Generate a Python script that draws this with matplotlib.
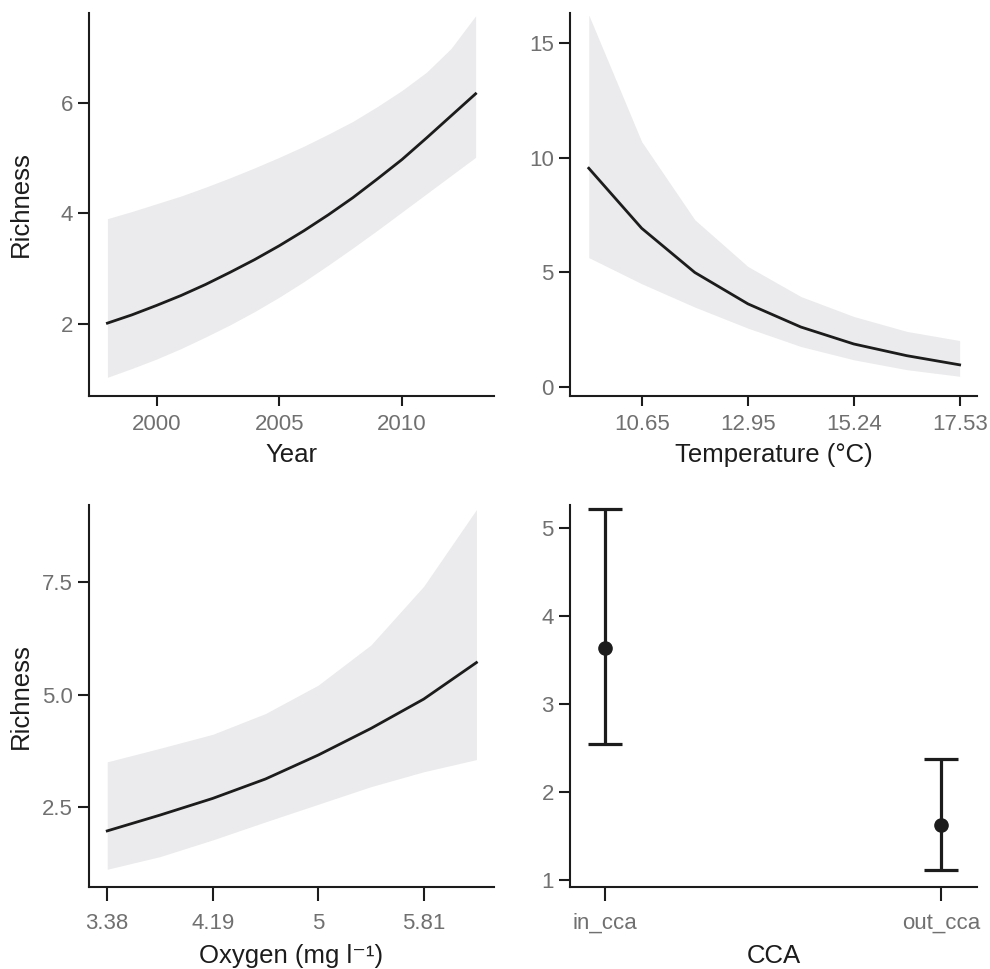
"""Model predictions of richness vs year, temperature, oxygen and CCA."""
import matplotlib
matplotlib.use("Agg")
import matplotlib.pyplot as plt

matplotlib.rcParams.update({
    "font.family": ["Liberation Sans", "DejaVu Sans"],
    "font.size": 16,
    "axes.linewidth": 1.5, "axes.edgecolor": "#1c1c1c",
    "xtick.major.width": 1.5, "ytick.major.width": 1.5,
    "xtick.major.size": 7.2, "ytick.major.size": 7.7,
    "xtick.color": "#1c1c1c", "ytick.color": "#1c1c1c",
    "xtick.labelcolor": "#707070", "ytick.labelcolor": "#707070",
    "xtick.labelsize": 16, "ytick.labelsize": 16,
    "xtick.major.pad": 6.3, "ytick.major.pad": 4,
    "axes.labelsize": 18.5, "axes.labelcolor": "#1c1c1c",
})

# --- Year
year = list(range(1998, 2014))
year_fit = [2.01, 2.16, 2.33, 2.51, 2.71, 2.93, 3.16, 3.41, 3.68, 3.97, 4.28, 4.62, 4.97, 5.36, 5.76, 6.16]
year_lo = [1.03, 1.19, 1.36, 1.55, 1.76, 1.98, 2.22, 2.48, 2.76, 3.06, 3.37, 3.69, 4.02, 4.35, 4.68, 5.01]
year_hi = [3.90, 4.03, 4.17, 4.31, 4.47, 4.64, 4.82, 5.01, 5.21, 5.43, 5.66, 5.93, 6.22, 6.55, 6.98, 7.57]

# --- Temperature
temp = [9.505, 10.65, 11.80, 12.95, 14.095, 15.24, 16.385, 17.53]
temp_fit = [9.55, 6.93, 5.00, 3.63, 2.62, 1.88, 1.37, 0.97]
temp_lo = [5.65, 4.51, 3.49, 2.57, 1.77, 1.19, 0.76, 0.47]
temp_hi = [16.24, 10.71, 7.30, 5.26, 3.95, 3.08, 2.43, 2.03]
temp_ticks = [10.65, 12.95, 15.24, 17.53]

# --- Oxygen
oxy = [3.38, 3.785, 4.19, 4.595, 5.0, 5.405, 5.81, 6.215]
oxy_fit = [1.98, 2.33, 2.70, 3.13, 3.66, 4.25, 4.90, 5.71]
oxy_lo = [1.13, 1.41, 1.78, 2.18, 2.57, 2.96, 3.29, 3.56]
oxy_hi = [3.51, 3.81, 4.12, 4.58, 5.21, 6.10, 7.40, 9.10]
oxy_ticks = [3.38, 4.19, 5.0, 5.81]
oxy_labels = ["3.38", "4.19", "5", "5.81"]

# --- CCA
cca = ["in_cca", "out_cca"]
cca_fit = [3.64, 1.62]
cca_lo = [2.54, 1.11]
cca_hi = [5.22, 2.37]

ribbon = "#ebebed"
ink = "#1c1c1c"

fig = plt.figure(figsize=(9.9, 9.69), dpi=100)
ax1 = fig.add_axes([0.0899, 0.5918, 0.4091, 0.3947])
ax2 = fig.add_axes([0.5758, 0.5918, 0.4108, 0.3947])
ax3 = fig.add_axes([0.0899, 0.0843, 0.4091, 0.3945])
ax4 = fig.add_axes([0.5758, 0.0843, 0.4108, 0.3945])

for ax in (ax1, ax2, ax3, ax4):
    ax.spines["top"].set_visible(False)
    ax.spines["right"].set_visible(False)
# bottom row has slightly longer x ticks
for ax in (ax3, ax4):
    ax.tick_params(axis="x", length=10.3, pad=8.3)

# Year panel
ax1.fill_between(year, year_lo, year_hi, color=ribbon, linewidth=0)
ax1.plot(year, year_fit, color=ink, linewidth=2)
ax1.set_xlim(1997.25, 2013.75)
ax1.set_ylim(0.70, 7.62)
ax1.set_xticks([2000, 2005, 2010])
ax1.set_yticks([2, 4, 6])
ax1.set_xlabel("Year")
ax1.set_ylabel("Richness")

# Temperature panel
ax2.fill_between(temp, temp_lo, temp_hi, color=ribbon, linewidth=0)
ax2.plot(temp, temp_fit, color=ink, linewidth=2)
ax2.set_xlim(9.10, 17.90)
ax2.set_ylim(-0.37, 16.32)
ax2.set_xticks(temp_ticks)
ax2.set_xticklabels([f"{t:.2f}" for t in temp_ticks])
ax2.set_yticks([0, 5, 10, 15])
ax2.set_xlabel("Temperature (°C)")

# Oxygen panel
ax3.fill_between(oxy, oxy_lo, oxy_hi, color=ribbon, linewidth=0)
ax3.plot(oxy, oxy_fit, color=ink, linewidth=2)
ax3.set_xlim(3.24, 6.35)
ax3.set_ylim(0.73, 9.2)
ax3.set_xticks(oxy_ticks)
ax3.set_xticklabels(oxy_labels)
ax3.set_yticks([2.5, 5.0, 7.5])
ax3.set_yticklabels(["2.5", "5.0", "7.5"])
ax3.set_xlabel("Oxygen (mg l⁻¹)")
ax3.set_ylabel("Richness")

# CCA panel
xpos = list(range(1, len(cca) + 1))
err = [[f - lo for f, lo in zip(cca_fit, cca_lo)],
       [hi - f for f, hi in zip(cca_fit, cca_hi)]]
ax4.errorbar(xpos, cca_fit, yerr=err, fmt="o", color=ink, ecolor=ink,
             markersize=9.5, elinewidth=2.3, capsize=12, capthick=2.3)
ax4.set_xlim(0.895, 2.107)
ax4.set_ylim(0.914, 5.26)
ax4.set_xticks(xpos)
ax4.set_xticklabels(cca)
ax4.set_yticks([1, 2, 3, 4, 5])
ax4.set_xlabel("CCA")

# fixed label positions (axes coords)
ax1.xaxis.set_label_coords(0.5, -0.125)
ax2.xaxis.set_label_coords(0.5, -0.125)
ax3.xaxis.set_label_coords(0.5, -0.148)
ax4.xaxis.set_label_coords(0.5, -0.148)
ax1.yaxis.set_label_coords(-0.138, 0.5)
ax3.yaxis.set_label_coords(-0.138, 0.5)

fig.savefig("out.png", dpi=100)
